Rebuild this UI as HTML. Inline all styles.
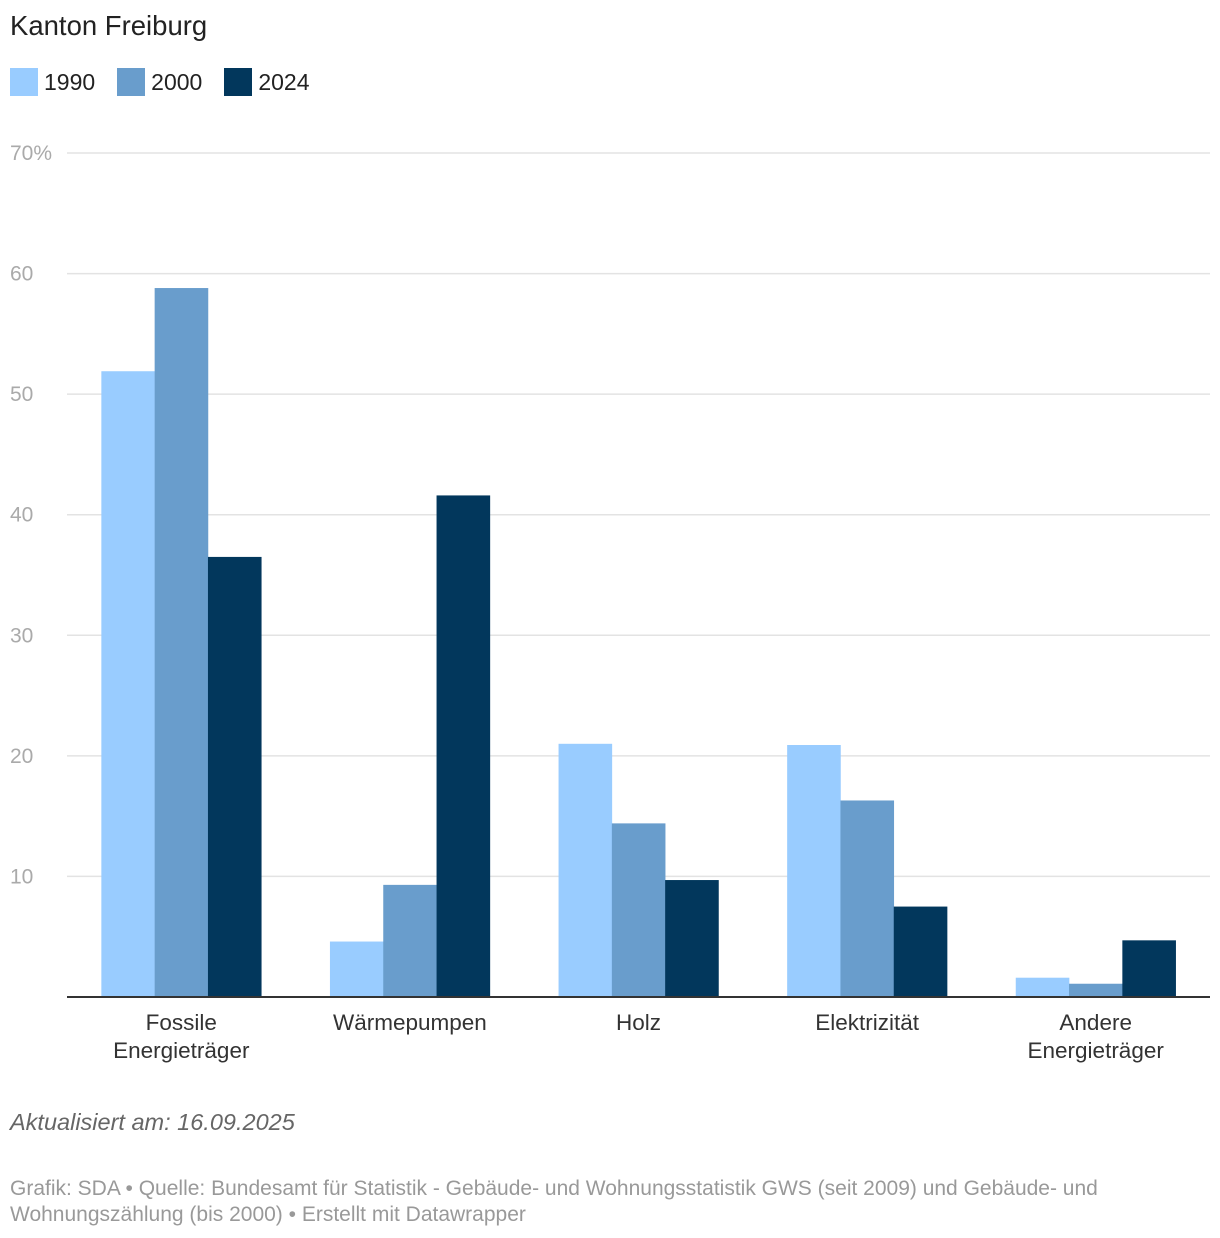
<!DOCTYPE html>
<html><head><meta charset="utf-8">
<style>
body{margin:0;background:#fff;width:1220px;height:1238px;overflow:hidden;font-family:"Liberation Sans",sans-serif;}
.t{position:absolute;white-space:nowrap;}
</style></head>
<body>
<div class="t" style="left:10px;top:10px;font-size:27.5px;color:#222;">Kanton Freiburg</div>
<div style="position:absolute;left:10px;top:68px;height:28px;display:flex;align-items:center;font-size:23px;color:#222;">
 <span style="display:flex;align-items:center;margin-right:22px"><span style="width:28px;height:28px;background:#99ccff;margin-right:6px"></span>1990</span>
 <span style="display:flex;align-items:center;margin-right:22px"><span style="width:28px;height:28px;background:#699dcc;margin-right:6px"></span>2000</span>
 <span style="display:flex;align-items:center;"><span style="width:28px;height:28px;background:#02375c;margin-right:6px"></span>2024</span>
</div>
<svg id="chart" width="1220" height="1238" style="position:absolute;left:0;top:0"></svg>
<div class="t" style="left:10px;top:1109px;font-size:23.5px;font-style:italic;color:#666;">Aktualisiert am: 16.09.2025</div>
<div class="t" style="left:10px;top:1176px;font-size:21px;color:#999;line-height:26px;white-space:normal;width:1135px;">Grafik: SDA • Quelle: Bundesamt für Statistik - Gebäude- und Wohnungsstatistik GWS (seit 2009) und Gebäude- und Wohnungszählung (bis 2000) • Erstellt mit Datawrapper</div>
<script>
const categories=[["Fossile","Energieträger"],["Wärmepumpen"],["Holz"],["Elektrizität"],["Andere","Energieträger"]];
const seriesNames=["1990","2000","2024"];
const values1990=[51.9,4.6,21.0,20.9,1.6];
const values2000=[58.8,9.3,14.4,16.3,1.1];
const values2024=[36.5,41.6,9.7,7.5,4.7];
const ticks=[10,20,30,40,50,60,70];
const tickLabels=["10","20","30","40","50","60","70%"];
const colors=["#99ccff","#699dcc","#02375c"];
const NS="http://www.w3.org/2000/svg";
const svg=document.getElementById("chart");
const x0=67,x1=1210,y0=997,yTop=153,maxV=70;
const y=v=>y0-(y0-yTop)*v/maxV;
const gw=(x1-x0)/categories.length,bw=53.3,pad=(gw-3*bw)/2;
function el(t,a){const e=document.createElementNS(NS,t);for(const k in a)e.setAttribute(k,a[k]);svg.appendChild(e);return e;}
ticks.forEach((v,i)=>{
 const l=el("line",{x1:x0,x2:x1,y1:y(v),y2:y(v),stroke:"#e3e3e3","stroke-width":1.5});
 
 
 const t=el("text",{x:10,y:y(v)+7,"font-size":21,fill:"#aaa","font-family":"Liberation Sans, sans-serif"});
 t.textContent=tickLabels[i];
 
 
});
const all=[values1990,values2000,values2024];
categories.forEach((c,i)=>{
 all.forEach((s,j)=>{
  const r=el("rect",{x:x0+i*gw+pad+j*bw,y:y(s[i]),width:bw+0.3,height:y0-y(s[i]),fill:colors[j]});
  
  
 });
 const cx=x0+i*gw+gw/2;
 c.forEach((line,k)=>{
  const t=el("text",{x:cx,y:1030+k*28,"text-anchor":"middle","font-size":22.5,fill:"#333","font-family":"Liberation Sans, sans-serif"});
  t.textContent=line;
  
  
 });
});
const ax=el("line",{x1:x0,x2:x1,y1:y0,y2:y0,stroke:"#333","stroke-width":2});


</script>
</body></html>
